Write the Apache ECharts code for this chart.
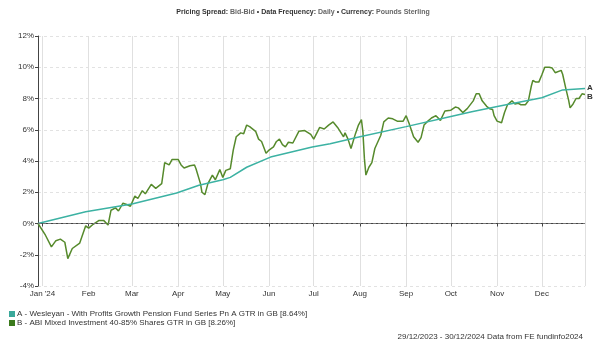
<!DOCTYPE html>
<html>
<head>
<meta charset="utf-8">
<script src="https://cdn.jsdelivr.net/npm/echarts@6/dist/echarts.min.js"></script>
<style>
  html, body { margin: 0; padding: 0; background: #fff; }
  #chart { width: 606px; height: 352px; }
</style>
</head>
<body>
<div id="chart"></div>
<script>
  // Series A - with profits fund (almost straight climb)
  var datesA = ['2023-12-29', '2024-01-30', '2024-03-01', '2024-03-31', '2024-04-15', '2024-05-01',
    '2024-05-06', '2024-05-17', '2024-06-02', '2024-06-30', '2024-07-12', '2024-08-01', '2024-09-01',
    '2024-10-01', '2024-10-15', '2024-11-02', '2024-12-01', '2024-12-15', '2024-12-30']
  var valuesA = [0, 0.75, 1.25, 1.95, 2.45, 2.8, 2.95, 3.6, 4.25, 4.9, 5.1, 5.55, 6.2, 6.85, 7.15, 7.5, 8.05, 8.55, 8.64]

  // Series B - ABI sector average
  var datesB = ['2023-12-29', '2024-01-03', '2024-01-07', '2024-01-10', '2024-01-13', '2024-01-16',
    '2024-01-18', '2024-01-21', '2024-01-26', '2024-01-30', '2024-02-01', '2024-02-04', '2024-02-08',
    '2024-02-11', '2024-02-14', '2024-02-16', '2024-02-19', '2024-02-21', '2024-02-24', '2024-02-27',
    '2024-02-29', '2024-03-03', '2024-03-05', '2024-03-08', '2024-03-10', '2024-03-14', '2024-03-17',
    '2024-03-21', '2024-03-23', '2024-03-26', '2024-03-28', '2024-04-01', '2024-04-03', '2024-04-05',
    '2024-04-09', '2024-04-12', '2024-04-13', '2024-04-16', '2024-04-17', '2024-04-19', '2024-04-21',
    '2024-04-24', '2024-04-26', '2024-04-29', '2024-05-01', '2024-05-03', '2024-05-06', '2024-05-08',
    '2024-05-10', '2024-05-13', '2024-05-15', '2024-05-17', '2024-05-19', '2024-05-23', '2024-05-25',
    '2024-05-27', '2024-05-30', '2024-06-01', '2024-06-04', '2024-06-06', '2024-06-08', '2024-06-10',
    '2024-06-12', '2024-06-14', '2024-06-17', '2024-06-21', '2024-06-25', '2024-06-29', '2024-07-01',
    '2024-07-05', '2024-07-08', '2024-07-11', '2024-07-14', '2024-07-17', '2024-07-21', '2024-07-22',
    '2024-07-24', '2024-07-26', '2024-07-27', '2024-07-29', '2024-07-31', '2024-08-02', '2024-08-03',
    '2024-08-04', '2024-08-05', '2024-08-07', '2024-08-09', '2024-08-11', '2024-08-15', '2024-08-17',
    '2024-08-20', '2024-08-23', '2024-08-26', '2024-08-30', '2024-09-01', '2024-09-03', '2024-09-06',
    '2024-09-09', '2024-09-11', '2024-09-13', '2024-09-15', '2024-09-18', '2024-09-19', '2024-09-21',
    '2024-09-24', '2024-09-27', '2024-10-01', '2024-10-04', '2024-10-06', '2024-10-09', '2024-10-12',
    '2024-10-16', '2024-10-18', '2024-10-20', '2024-10-22', '2024-10-25', '2024-10-27', '2024-10-29',
    '2024-10-30', '2024-11-01', '2024-11-04', '2024-11-06', '2024-11-08', '2024-11-11', '2024-11-13',
    '2024-11-15', '2024-11-17', '2024-11-20', '2024-11-22', '2024-11-24', '2024-11-25', '2024-11-27',
    '2024-11-29', '2024-12-01', '2024-12-03', '2024-12-06', '2024-12-08', '2024-12-10', '2024-12-11',
    '2024-12-14', '2024-12-15', '2024-12-17', '2024-12-19', '2024-12-20', '2024-12-22', '2024-12-24',
    '2024-12-26', '2024-12-28', '2024-12-30']
  var valuesB = [0, -0.75, -1.5, -1.1, -1.0, -1.2,
    -2.25, -1.6, -1.25, -0.15, -0.3, -0.05, 0.2,
    0.2, -0.1, 0.85, 1.0, 0.8, 1.3, 1.2,
    1.1, 1.75, 1.6, 2.1, 1.9, 2.5, 2.25,
    2.55, 3.9, 3.75, 4.1, 4.1, 3.75, 3.55,
    3.7, 3.75, 3.5, 2.55, 2.0, 1.85, 2.55,
    3.1, 2.8, 3.45, 2.95, 3.4, 3.5, 4.7,
    5.55, 5.8, 5.75, 6.3, 6.2, 5.9, 5.4,
    5.25, 4.5, 4.7, 4.9, 5.25, 5.4, 5.05,
    4.9, 5.2, 5.15, 5.9, 5.95, 5.7, 5.4,
    6.15, 6.05, 6.3, 6.5, 6.15, 5.55, 5.8,
    5.4, 4.8, 4.85, 5.75, 6.3, 6.65, 5.85,
    4.15, 3.1, 3.6, 3.9, 4.8, 5.65, 6.5,
    6.75, 6.7, 6.55, 6.55, 6.9, 6.4, 5.55,
    5.2, 5.5, 6.3, 6.5, 6.75, 6.65, 6.9,
    6.6, 7.2, 7.25, 7.45, 7.4, 7.1, 7.35,
    7.85, 8.3, 8.3, 7.85, 7.5, 7.35, 7.3,
    6.9, 6.55, 6.45, 7.1, 7.6, 7.85, 7.65,
    7.7, 7.6, 7.6, 7.85, 8.8, 9.15, 9.05,
    9.05, 9.5, 10.0, 10.0, 9.95, 9.65, 9.55,
    9.8, 9.55, 8.7, 7.9, 7.4, 7.65, 8.0,
    8.0, 8.3, 8.26]

  var nameA = 'A - Wesleyan - With Profits Growth Pension Fund Series Pn A GTR in GB [8.64%]'
  var nameB = 'B - ABI Mixed Investment 40-85% Shares GTR in GB [8.26%]'
  var monthNames = ['Jan', 'Feb', 'Mar', 'Apr', 'May', 'Jun', 'Jul', 'Aug', 'Sep', 'Oct', 'Nov', 'Dec']

  function pairs(dates, values) {
    return dates.map(function (d, i) { return [d, values[i]] })
  }

  var chart = echarts.init(document.getElementById('chart'))
  var font = 'Liberation Sans, Arial, sans-serif'

  chart.setOption({
    animation: false,
    textStyle: { fontFamily: font },
    title: {
      text: '{b|Pricing Spread:} {n|Bid-Bid} {b|\u2022 Data Frequency:} {n|Daily} {b|\u2022 Currency:} {n|Pounds Sterling}',
      left: 'center',
      top: 4,
      textStyle: {
        fontSize: 7,
        rich: {
          b: { fontSize: 7, fontWeight: 'bold', color: '#333', fontFamily: font },
          n: { fontSize: 7, color: '#666', fontFamily: font }
        }
      }
    },
    legend: {
      orient: 'vertical',
      left: 4,
      top: 305,
      icon: 'rect',
      itemWidth: 6,
      itemHeight: 6,
      itemGap: 1,
      selectedMode: false,
      textStyle: { fontSize: 8, color: '#333', padding: [0, 0, 0, -3] },
      data: [nameA, nameB]
    },
    graphic: [{
      type: 'text',
      right: 23,
      top: 333,
      style: {
        text: '29/12/2023 - 30/12/2024 Data from FE fundinfo2024',
        fontSize: 8,
        fill: '#333',
        fontFamily: font
      }
    }],
    grid: { left: 38, right: 21, top: 36, bottom: 66 },
    xAxis: {
      type: 'time',
      min: '2023-12-29',
      max: '2024-12-30',
      splitNumber: 12,
      axisLine: { lineStyle: { color: '#444' } },
      axisTick: { length: 3, lineStyle: { color: '#444' } },
      axisLabel: {
        fontSize: 8,
        color: '#333',
        margin: 4,
        formatter: function (value) {
          var d = new Date(value)
          var m = d.getMonth()
          return m === 0 ? "Jan '24" : monthNames[m]
        }
      },
      splitLine: { show: true, lineStyle: { color: '#e0e0e0' } }
    },
    yAxis: {
      type: 'value',
      min: -4,
      max: 12,
      interval: 2,
      axisLine: { show: true, lineStyle: { color: '#444' } },
      axisTick: { show: true, length: 3, lineStyle: { color: '#444' } },
      axisLabel: { fontSize: 8, color: '#333', margin: 4, formatter: '{value}%' },
      splitLine: { lineStyle: { color: '#e2e2e2', type: [3, 3] } }
    },
    series: [
      {
        name: nameA,
        type: 'line',
        symbol: 'none',
        data: pairs(datesA, valuesA),
        itemStyle: { color: '#3aa89a' },
        lineStyle: { color: '#3cb2a3', width: 1.5 },
        endLabel: { show: true, formatter: 'A', fontSize: 8, fontWeight: 'bold', color: '#333', distance: 2, offset: [0, -1] },
        markLine: {
          silent: true,
          symbol: 'none',
          label: { show: false },
          lineStyle: { color: '#777', type: [3, 2], width: 1 },
          data: [{ yAxis: 0 }]
        },
        z: 3
      },
      {
        name: nameB,
        type: 'line',
        symbol: 'none',
        data: pairs(datesB, valuesB),
        itemStyle: { color: '#3b7a1c' },
        lineStyle: { color: '#568a2c', width: 1.5 },
        endLabel: { show: true, formatter: 'B', fontSize: 8, fontWeight: 'bold', color: '#333', distance: 2, offset: [0, 2] },
        markLine: {
          silent: true,
          symbol: 'none',
          label: { show: false },
          lineStyle: { color: '#e0e0e0', type: 'solid', width: 1 },
          data: [{ xAxis: '2024-12-30' }]
        },
        z: 2
      }
    ]
  })
</script>
</body>
</html>
